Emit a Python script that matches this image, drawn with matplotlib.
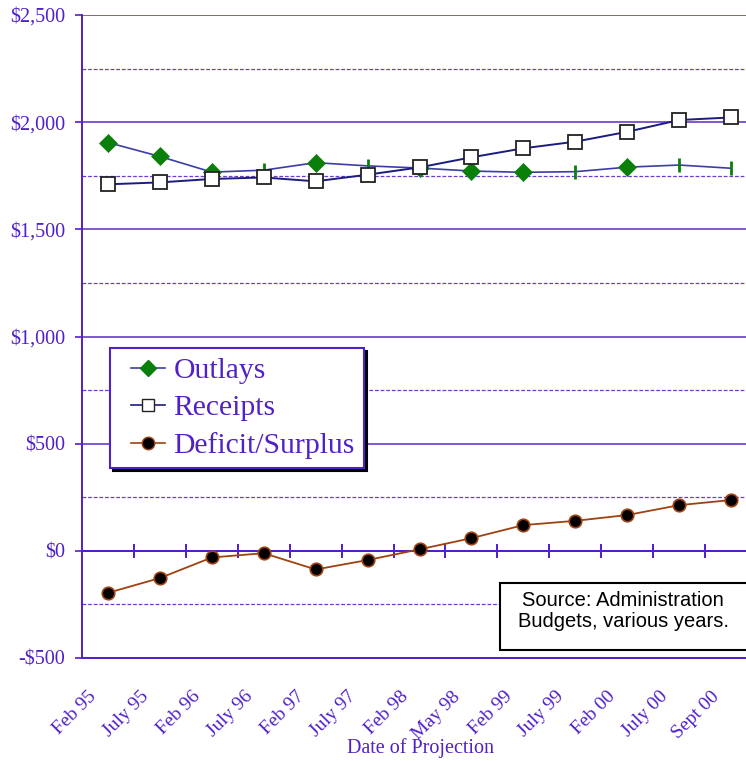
import matplotlib.pyplot as plt
import numpy as np
from matplotlib.patches import Rectangle
from matplotlib.ticker import FuncFormatter, MultipleLocator
from matplotlib.legend_handler import HandlerLine2D
from matplotlib.transforms import ScaledTranslation

dates = ['Feb 95', 'July 95', 'Feb 96', 'July 96', 'Feb 97', 'July 97', 'Feb 98',
         'May 98', 'Feb 99', 'July 99', 'Feb 00', 'July 00', 'Sept 00']
outlays = [1905, 1840, 1767, 1776, 1811, 1796, 1786, 1772, 1766, 1769, 1790, 1800, 1785]
receipts = [1710, 1719, 1735, 1742, 1724, 1755, 1789, 1836, 1878, 1909, 1955, 2010, 2022]
deficit = [-196, -127, -31, -11, -87, -43, 7, 59, 120, 140, 167, 213, 237]
# the original drew some outlay points as a plain tick instead of a diamond
outlay_markers = ['D', 'D', 'D', '|', 'D', '|', 'D', 'D', 'D', '|', 'D', '|', '|']

purple = '#5020c8'
grid_purple = '#6a3cd0'
serif = 'Liberation Serif'


class PaddedLine(HandlerLine2D):
    """Line handle with some blank space on its left."""
    def __init__(self, pad, **kw):
        super().__init__(**kw)
        self.pad = pad

    def create_artists(self, legend, orig_handle, xdescent, ydescent,
                       width, height, fontsize, trans):
        return super().create_artists(legend, orig_handle, xdescent - self.pad,
                                      ydescent, width - self.pad, height,
                                      fontsize, trans)


fig = plt.figure(figsize=(7.46, 7.61), dpi=100)
ax = fig.add_axes([82 / 746, 1 - 658 / 761, 675 / 746, 643 / 761])

x = np.arange(len(dates))

# grid
ax.set_ylim(-500, 2500)
ax.set_xlim(-0.5, len(dates) - 0.5)
ax.yaxis.set_major_locator(MultipleLocator(500))
ax.yaxis.set_minor_locator(MultipleLocator(250))
ax.grid(True, which='major', axis='y', color=grid_purple, linewidth=1.2)
ax.grid(True, which='minor', axis='y', color=grid_purple, linewidth=0.9,
        linestyle=(0, (3, 1.5)))
ax.set_axisbelow(True)

# zero line with category separators
ax.axhline(0, color=purple, linewidth=1.4, zorder=1)
ax.vlines(x[:-1] + 0.5, -33, 33, color=purple, linewidth=1.4, zorder=1)

# deficit
ax.plot(x, deficit, color='#a0420f', linewidth=1.3, marker='o', markersize=9,
        markerfacecolor='black', markeredgecolor='#a0420f', markeredgewidth=1.2,
        zorder=3)

# outlays
ax.plot(x, outlays, color='#3c3ca8', linewidth=1.2, zorder=3)
for m in ['D', '|']:
    idx = [i for i, mk in enumerate(outlay_markers) if mk == m]
    ax.plot(x[idx], np.array(outlays)[idx], linestyle='none', marker=m,
            markersize=9 if m == 'D' else 10, color='#0a7f0a',
            markeredgewidth=2 if m == '|' else 0.5, zorder=4)

# receipts
ax.plot(x, receipts, color='#1c1c80', linewidth=1.4, marker='s', markersize=10,
        markerfacecolor='white', markeredgecolor='#222222', markeredgewidth=1.3,
        zorder=5)

# legend
h1, = ax.plot([], [], color='#3c3ca8', linewidth=1.2, marker='D', markersize=8,
              markerfacecolor='#0a7f0a', markeredgecolor='#0a7f0a')
h2, = ax.plot([], [], color='#1c1c80', linewidth=1.2, marker='s', markersize=9,
              markerfacecolor='white', markeredgecolor='#222222')
h3, = ax.plot([], [], color='#a0420f', linewidth=1.2, marker='o', markersize=9,
              markerfacecolor='black', markeredgecolor='#a0420f')
fs = 21.3
hpad = 12 * 72 / 100  # points
leg = ax.legend([h1, h2, h3], ['Outlays', 'Receipts', 'Deficit/Surplus'],
                handler_map={h: PaddedLine(hpad) for h in (h1, h2, h3)},
                loc='upper left', bbox_to_anchor=((110 - 82) / 675, 1 - (348 - 15) / 643),
                prop={'family': serif, 'size': fs}, labelcolor=purple,
                frameon=True, fancybox=False, edgecolor=purple,
                handlelength=1.55, handletextpad=0.29, borderpad=0.31,
                labelspacing=0.36, borderaxespad=0,
                shadow={'color': 'black', 'alpha': 1})
leg.get_frame().set_linewidth(1.5)
leg.set_zorder(10)

# axes styling
for s in ['top', 'right']:
    ax.spines[s].set_visible(False)
ax.spines['left'].set_color(purple)
ax.spines['bottom'].set_color(purple)
ax.spines['left'].set_linewidth(1.4)
ax.spines['bottom'].set_linewidth(1.4)

ax.yaxis.set_major_formatter(FuncFormatter(
    lambda v, p: f"-${abs(v):,.0f}" if v < 0 else f"${v:,.0f}"))
ax.tick_params(axis='y', which='major', length=5, color=purple, width=1.2,
               labelcolor=purple, labelsize=14.5, pad=7)
ax.tick_params(axis='y', which='minor', length=0)
for lab in ax.get_yticklabels():
    lab.set_family(serif)

ax.set_xticks(x)
ax.set_xticklabels(dates, rotation=45, ha='right', va='center',
                   rotation_mode='anchor', family=serif, fontsize=14,
                   color=purple)
ax.tick_params(axis='x', length=0, pad=0)
shift = ScaledTranslation(-0.14, -0.36, fig.dpi_scale_trans)
for lab in ax.get_xticklabels():
    lab.set_transform(lab.get_transform() + shift)

ax.set_xlabel('Date of Projection', family=serif, fontsize=14.5, color=purple)
ax.xaxis.set_label_coords((420 - 82) / 675, -(748 - 658) / 643)
ax.xaxis.label.set_va('center')

# source box
fig.patches.append(Rectangle((500 / 746, 1 - 650 / 761), 270 / 746, 67 / 761,
                             transform=fig.transFigure, facecolor='white',
                             edgecolor='black', linewidth=1.5, zorder=10))
fig.text(623 / 746, 1 - 611 / 761, 'Source: Administration\nBudgets, various years.',
         ha='center', va='center', family='Liberation Sans', fontsize=14.5,
         linespacing=1.16, zorder=11)

fig.savefig('out.png', dpi=100)
